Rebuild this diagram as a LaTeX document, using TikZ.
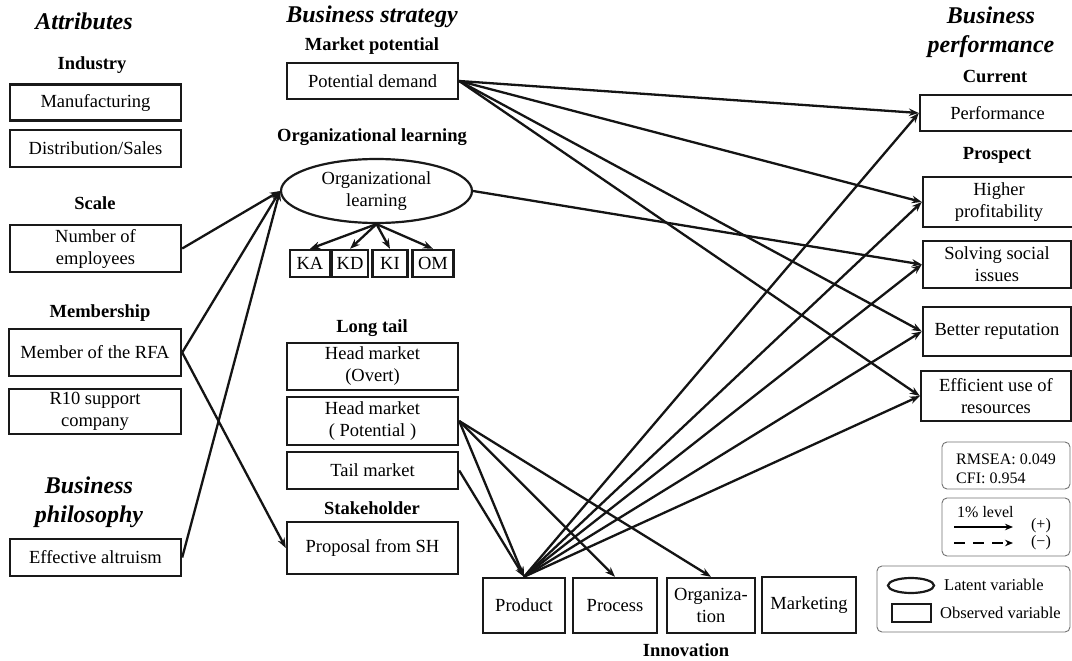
\documentclass[tikz,border=0pt]{standalone}
\usepackage{fontspec}
\setmainfont{Liberation Serif}
\usetikzlibrary{arrows.meta,shapes.geometric}

\newcommand\bodyfont{\fontsize{18.5}{22}\selectfont}
\newcommand\headfont{\fontsize{18.5}{22}\selectfont\bfseries}
\newcommand\titlefont{\fontsize{24}{29}\selectfont\bfseries\itshape}
\newcommand\keyfont{\fontsize{16}{19}\selectfont}

\begin{document}
\begin{tikzpicture}[x=1pt,y=-1pt,
  box/.style={draw=black!90, line width=2.4pt, inner sep=0pt, align=center, font=\bodyfont},
  sz/.style 2 args={minimum width=#1pt, minimum height=#2pt},
  head/.style={font=\headfont, inner sep=0pt},
  title/.style={font=\titlefont, inner sep=0pt, align=center},
  link/.style={line width=2.3pt, draw=black!92, -{Stealth[length=10pt,width=7.5pt]}},
  keybox/.style={draw=black!55, line width=0.9pt, rounded corners=5pt},
  keytext/.style={font=\keyfont, inner sep=0pt, align=left},
]
\useasboundingbox (0,0) rectangle (1072,661);
\fill[white] (0,0) rectangle (1072,661);
\clip (0,0) rectangle (1072,661);

% ---------- Attributes ----------
\node[title] (tattr) at (84,21) {Attributes};
\node[head] (hind) at (92,65) {Industry};
\node[box, sz={171}{36}] (manu) at (95.5,102.5) {Manufacturing};
\node[box, sz={171}{37}] (dist) at (95.5,148.5) {Distribution/Sales};
\node[head] (hscale) at (95,203) {Scale};
\node[box, sz={171}{47}] (emp) at (95.5,248.5) {Number of\\employees};
\node[head] (hmem) at (100,313) {Membership};
\node[box, sz={172}{47}] (rfa) at (95,352.5) {Member of the RFA};
\node[box, sz={172}{45}] (r10) at (95,411.5) {R10 support\\company};
\node[title] (tphil) at (89,502) {Business\\philosophy};
\node[box, sz={171}{37}] (alt) at (95.5,557.5) {Effective altruism};

% ---------- Business strategy ----------
\node[title] (tstrat) at (372,17) {Business strategy};
\node[head] (hmkt) at (372,46) {Market potential};
\node[box, sz={171}{36}] (pd) at (372.5,81) {Potential demand};
\node[head] (horg) at (372,137) {Organizational learning};
\node[draw=black!90, line width=2.2pt, ellipse, inner sep=0pt, sz={191}{64},
      align=center, font=\bodyfont] (ol) at (376.5,191) {Organizational\\learning};
\node[box, sz={40}{27}] (ka) at (310,263.5) {KA};
\node[box, sz={36}{27}] (kd) at (350,263.5) {KD};
\node[box, sz={35}{27}] (ki) at (390,263.5) {KI};
\node[box, sz={41}{27}] (om) at (433,263.5) {OM};
\node[head] (htail) at (372,328) {Long tail};
\node[box, sz={171}{47}] (hmo) at (372.5,366.5) {Head market\\(Overt)};
\node[box, sz={171}{48}] (hmp) at (372.5,421) {Head market\\( Potential )};
\node[box, sz={171}{37}] (tail) at (372.5,470.5) {Tail market};
\node[head] (hsh) at (372,508) {Stakeholder};
\node[box, sz={171}{52}] (sh) at (372.5,548) {Proposal from SH};

% ---------- Innovation ----------
\node[box, sz={82}{55}] (prod) at (524,605.5) {Product};
\node[box, sz={84}{55}] (proc) at (615,605.5) {Process};
\node[box, sz={88}{55}] (org) at (711,605.5) {Organiza-\\tion};
\node[box, sz={94}{56}] (mkt) at (809,605) {Marketing};
\node[head] (hinno) at (686,650) {Innovation};

% ---------- Business performance ----------
\node[title] (tperf) at (991,32) {Business\\performance};
\node[head] (hcur) at (995,76) {Current};
\node[box, sz={155}{36}] (perf) at (997.5,113) {Performance};
\node[head] (hpro) at (997,155) {Prospect};
\node[box, sz={152}{50}] (hp) at (999,202) {Higher\\profitability};
\node[box, sz={148}{47}] (ss) at (997,264.5) {Solving social\\issues};
\node[box, sz={148}{49}] (br) at (997,331.5) {Better reputation};
\node[box, sz={150}{50}] (eff) at (996,396) {Efficient use of\\resources};

% ---------- Paths ----------
\draw[link] (emp.east) -- (ol.west);
\draw[link] (rfa.east) -- (ol.west);
\draw[link] (alt.east) -- (ol.west);
\draw[link] (rfa.east) -- (sh.west);
\foreach \t in {ka,kd,ki,om} \draw[link] (ol.south) -- (\t.north);
\foreach \t in {perf,hp,br,eff} \draw[link] (pd.east) -- (\t.west);
\draw[link] (ol.east) -- (ss.west);
\foreach \t in {prod,proc,org} \draw[link] (hmp.east) -- (\t.north);
\draw[link] (tail.east) -- (prod.north);
\foreach \t in {perf,hp,ss,br,eff} \draw[link] (prod.north) -- (\t.west);

% ---------- Key ----------
\node[keybox, sz={128}{47}] (kfit) at (1006,465.5) {};
\node[keytext, anchor=west] (rmsea) at (956,459) {RMSEA: 0.049};
\node[keytext, anchor=west] (cfi) at (956,478) {CFI: 0.954};

\node[keybox, sz={128}{58}] (ksig) at (1006,527) {};
\node[keytext, anchor=west] (lvl) at (957,512) {1\% level};
\coordinate (sa) at (954,527);
\coordinate (sb) at (1013,527);
\coordinate (da) at (954,543);
\coordinate (db) at (1013,543);
\draw[line width=2.2pt, -{Stealth[length=8pt,width=6.5pt]}] (sa) -- (sb);
\draw[line width=2.2pt, dash pattern=on 11pt off 8pt, -{Stealth[length=8pt,width=6.5pt]}] (da) -- (db);
\node[keytext] (plus) at (1041,526) {(+)};
\node[keytext] (minus) at (1041,543) {(−)};

\node[keybox, sz={193}{66}] (kvar) at (973.5,599) {};
\node[draw=black!90, line width=2.2pt, ellipse, inner sep=0pt, sz={46}{15}] (kell) at (911,585.5) {};
\node[keytext, anchor=west, font=\fontsize{16.5}{19}\selectfont] (klat) at (944,585) {Latent variable};
\node[draw=black!90, line width=2.2pt, inner sep=0pt, sz={39}{18}] (krect) at (911.5,613) {};
\node[keytext, anchor=west, font=\fontsize{16.5}{19}\selectfont] (kobs) at (940,613) {Observed variable};
\end{tikzpicture}
\end{document}
